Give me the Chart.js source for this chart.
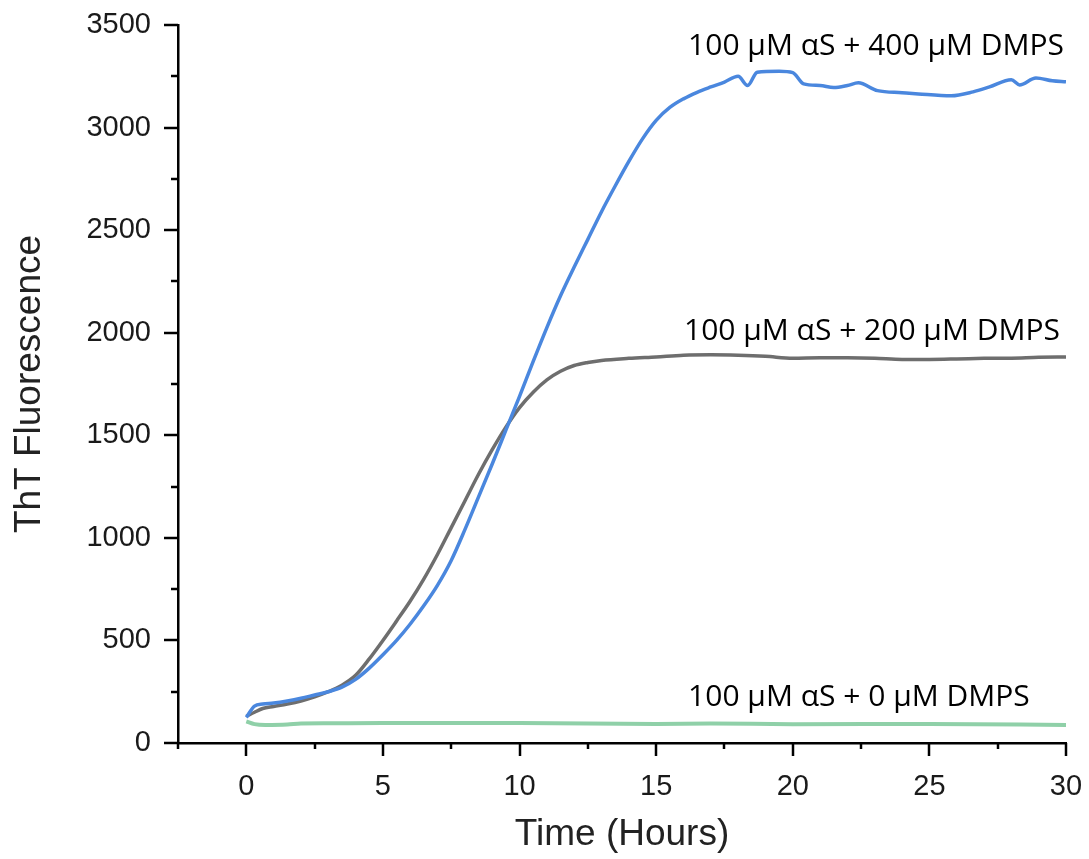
<!DOCTYPE html>
<html>
<head>
<meta charset="utf-8">
<script src="https://cdn.jsdelivr.net/npm/chart.js@4.4.1/dist/chart.umd.min.js"></script>
<style>
  html, body { margin: 0; padding: 0; background: #ffffff; }
  #wrap { position: relative; width: 1089px; height: 859px; }
</style>
</head>
<body>
<div id="wrap"><canvas id="c" width="1089" height="859"></canvas></div>
<script>
// ---- data ----
const seriesNames = ["100 \u03bcM \u03b1S + 400 \u03bcM DMPS", "100 \u03bcM \u03b1S + 200 \u03bcM DMPS", "100 \u03bcM \u03b1S + 0 \u03bcM DMPS"];

const time400 = [0, 0.3, 0.6, 1, 1.5, 2, 2.5, 3, 3.5, 4, 4.5, 5, 5.5, 6, 6.5, 7, 7.5, 8, 8.5, 9, 9.5, 10, 10.5, 11, 11.5, 12, 12.5, 13, 13.5, 14, 14.5, 15, 15.5, 16, 16.5, 17, 17.5, 18, 18.35, 18.7, 19.5, 20, 20.4, 21, 21.5, 22, 22.4, 23.1, 24, 24.6, 25.8, 26.6, 27.2, 28, 28.3, 28.9, 29.5, 30];
const dmps400 = [125, 180, 190, 195, 205, 218, 234, 250, 272, 310, 365, 430, 500, 580, 670, 770, 890, 1040, 1200, 1360, 1525, 1690, 1860, 2025, 2180, 2320, 2455, 2590, 2715, 2835, 2945, 3035, 3098, 3140, 3172, 3198, 3222, 3250, 3205, 3270, 3275, 3268, 3213, 3205, 3195, 3205, 3218, 3180, 3170, 3164, 3155, 3174, 3198, 3233, 3208, 3242, 3228, 3223];

const time200 = [0, 0.3, 0.6, 1, 1.5, 2, 2.5, 3, 3.5, 4, 4.5, 5, 5.5, 6, 6.5, 7, 7.5, 8, 8.5, 9, 9.5, 10, 10.5, 11, 11.5, 12, 12.5, 13, 14, 15, 16, 17, 18, 19, 20, 21, 22, 23, 24, 25, 26, 27, 28, 29, 30];
const dmps200 = [130, 150, 168, 178, 190, 205, 225, 250, 282, 330, 410, 500, 595, 692, 800, 920, 1050, 1180, 1310, 1430, 1540, 1635, 1710, 1770, 1812, 1840, 1855, 1865, 1875, 1882, 1890, 1892, 1890, 1885, 1876, 1878, 1878, 1876, 1870, 1870, 1872, 1875, 1876, 1880, 1882];

const time0 = [0, 0.3, 0.7, 1.5, 2, 3, 5, 10, 15, 17, 20, 25, 30];
const dmps0 = [105, 92, 88, 90, 95, 96, 97, 97, 93, 95, 92, 93, 88];

const xMajorTicks = [0, 5, 10, 15, 20, 25, 30];
const yMajorTicks = [0, 500, 1000, 1500, 2000, 2500, 3000, 3500];

const toPoints = (t, v) => t.map((x, i) => ({ x: x, y: v[i] }));

// ---- custom tick marks (major + minor) and in-plot labels ----
const tickPlugin = {
  id: 'ticksAndLabels',
  afterDraw(chart, args, opts) {
    const ctx = chart.ctx;
    const xs = chart.scales.x, ys = chart.scales.y;
    const ca = chart.chartArea;
    ctx.save();
    ctx.strokeStyle = '#000';
    ctx.lineWidth = 2.5;
    ctx.lineCap = 'butt';
    for (let v = xs.min; v <= xs.max + 1e-9; v += 2.5) {
      const px = Math.round(xs.getPixelForValue(v));
      const major = Math.abs(v % 5) < 1e-9;
      ctx.beginPath();
      ctx.moveTo(px, ca.bottom);
      ctx.lineTo(px, ca.bottom + (major ? 13 : 6));
      ctx.stroke();
    }
    for (let v = ys.min; v <= ys.max + 1e-9; v += 250) {
      const py = Math.round(ys.getPixelForValue(v));
      const major = Math.abs(v % 500) < 1e-9;
      ctx.beginPath();
      ctx.moveTo(ca.left, py);
      ctx.lineTo(ca.left - (major ? 14 : 7), py);
      ctx.stroke();
    }
    ctx.fillStyle = '#000';
    ctx.font = opts.font;
    ctx.textAlign = 'left';
    ctx.textBaseline = 'alphabetic';
    opts.labels.forEach((l) => {
      ctx.fillText(seriesNames[l.series], xs.getPixelForValue(l.x), ys.getPixelForValue(l.y));
    });
    ctx.restore();
  }
};

const tickFont = { family: '"Liberation Sans", Arial, sans-serif', size: 29 };
const titleFont = { family: '"Liberation Sans", Arial, sans-serif', size: 37 };

new Chart(document.getElementById('c'), {
  type: 'line',
  data: {
    datasets: [
      { label: seriesNames[0], data: toPoints(time400, dmps400), borderColor: '#4a87de', borderWidth: 3.5, pointRadius: 0, cubicInterpolationMode: 'monotone', order: 0 },
      { label: seriesNames[1], data: toPoints(time200, dmps200), borderColor: '#6e6e6e', borderWidth: 3.5, pointRadius: 0, cubicInterpolationMode: 'monotone', order: 1 },
      { label: seriesNames[2], data: toPoints(time0, dmps0), borderColor: '#8fd0a8', borderWidth: 4, pointRadius: 0, cubicInterpolationMode: 'monotone', order: 2 }
    ]
  },
  options: {
    responsive: false,
    animation: false,
    devicePixelRatio: 1,
    layout: { padding: { left: 0, right: 23, top: 25, bottom: 0 } },
    plugins: {
      legend: { display: false },
      tooltip: { enabled: false },
      ticksAndLabels: {
        font: '30px "Open Sans", sans-serif',
        labels: [
          { series: 0, x: 16.17, y: 3354 },
          { series: 1, x: 16.02, y: 1965 },
          { series: 2, x: 16.17, y: 180 }
        ]
      }
    },
    scales: {
      x: {
        type: 'linear',
        min: -2.5,
        max: 30,
        afterBuildTicks: (s) => { s.ticks = xMajorTicks.map(v => ({ value: v })); },
        afterFit: (s) => { s.height = 116; s.paddingLeft = 0; s.paddingRight = 0; },
        grid: { display: false, drawTicks: false },
        border: { display: true, color: '#000', width: 2.5 },
        ticks: { color: '#1a1a1a', font: tickFont, padding: 27, autoSkip: false, maxRotation: 0, callback: (v) => String(v) },
        title: { display: true, text: 'Time (Hours)', color: '#222', font: titleFont, padding: { top: 0, bottom: 2 } }
      },
      y: {
        type: 'linear',
        min: 0,
        max: 3500,
        afterBuildTicks: (s) => { s.ticks = yMajorTicks.map(v => ({ value: v })); },
        afterFit: (s) => { s.width = 178; s.paddingTop = 0; s.paddingBottom = 0; },
        grid: { display: false, drawTicks: false },
        border: { display: true, color: '#000', width: 2.5 },
        ticks: { color: '#1a1a1a', font: tickFont, padding: 27, callback: (v) => String(v) },
        title: { display: true, text: 'ThT Fluorescence', color: '#222', font: titleFont, padding: { top: 8, bottom: 0 } }
      }
    }
  },
  plugins: [tickPlugin]
});
</script>
</body>
</html>
